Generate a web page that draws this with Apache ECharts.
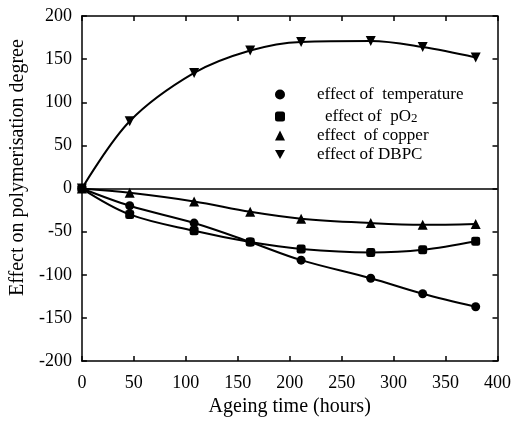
<!DOCTYPE html>
<html>
<head>
<meta charset="utf-8">
<script src="https://cdn.jsdelivr.net/npm/echarts@6/dist/echarts.min.js"></script>
<style>
  html, body { margin: 0; padding: 0; background: #fff; }
  #chart { width: 514px; height: 422px; }
</style>
</head>
<body>
<div id="chart"></div>
<script>
// Ageing time (hours) at which each effect was evaluated
var ageingHours = [0, 46, 108, 162, 211, 278, 328, 379];

// Effect on polymerisation degree for each factor
var effectTemperature = [0, -20, -40, -62, -83, -104, -122, -137];
var effectPO2 = [0, -30, -49, -62, -70, -74, -71, -61];
var effectCopper = [0, -5, -15, -27, -35, -40, -42, -41];
var effectDBPC = [0, 78, 134, 160, 170, 171, 164, 152];

var legendText = {
  temperature: 'effect of  temperature',
  pO2: '{a|effect of  pO}{s|2}',
  copper: 'effect  of copper',
  DBPC: 'effect of DBPC'
};

var FONT = '"Liberation Serif", "DejaVu Serif", serif';
var DOWN_TRIANGLE = 'path://M0,0 L10,0 L5,9 Z';

function pairs(ys) {
  return ageingHours.map(function (x, i) { return [x, ys[i]]; });
}

function lineSeries(name, ys, symbol, size) {
  return {
    name: name,
    type: 'line',
    data: pairs(ys),
    smooth: 0.35,
    symbol: symbol,
    symbolSize: size,
    showSymbol: true,
    lineStyle: { color: '#000', width: 2 },
    itemStyle: { color: '#000' },
    z: 3
  };
}

var chart = echarts.init(document.getElementById('chart'), null, { renderer: 'canvas' });

var tickCommon = { show: true, inside: true, length: 5, lineStyle: { color: '#000', width: 1.5 } };
var lineCommon = { show: true, onZero: false, lineStyle: { color: '#000', width: 1.5 } };

var series = [
  lineSeries('temperature', effectTemperature, 'circle', 9),
  lineSeries('pO2', effectPO2, 'roundRect', 9),
  lineSeries('copper', effectCopper, 'triangle', 10),
  lineSeries('DBPC', effectDBPC, DOWN_TRIANGLE, 10)
];

// horizontal reference line at zero effect
series[0].markLine = {
  silent: true,
  symbol: ['none', 'none'],
  label: { show: false },
  lineStyle: { color: '#000', type: 'solid', width: 1.5 },
  data: [{ yAxis: 0 }]
};

chart.setOption({
  animation: false,
  backgroundColor: '#fff',
  grid: { left: 80, right: 15, top: 16, bottom: 56, show: false },
  legend: {
    orient: 'vertical',
    left: 275,
    top: 86,
    padding: 0,
    itemWidth: 10,
    itemHeight: 10,
    itemGap: 2,
    selectedMode: false,
    data: [
      { name: 'temperature', icon: 'circle' },
      { name: 'pO2', icon: 'roundRect' },
      { name: 'copper', icon: 'triangle' },
      { name: 'DBPC', icon: DOWN_TRIANGLE }
    ],
    formatter: function (n) { return legendText[n]; },
    textStyle: {
      fontFamily: FONT,
      fontSize: 17,
      color: '#000',
      lineHeight: 17,
      padding: [0, 0, 0, 27],
      rich: {
        a: { fontFamily: FONT, fontSize: 17, color: '#000', lineHeight: 17, padding: [0, 0, 0, 8] },
        s: { fontFamily: FONT, fontSize: 13, color: '#000', lineHeight: 17, verticalAlign: 'bottom', padding: [7, 0, 0, 0] }
      }
    }
  },
  xAxis: [
    {
      type: 'value', position: 'bottom', min: 0, max: 400, interval: 50,
      name: 'Ageing time (hours)', nameLocation: 'middle', nameGap: 29,
      nameTextStyle: { fontFamily: FONT, fontSize: 20, color: '#000' },
      axisLine: lineCommon, axisTick: tickCommon,
      axisLabel: { fontFamily: FONT, fontSize: 18, color: '#000', margin: 13 },
      splitLine: { show: false }
    },
    {
      type: 'value', position: 'top', min: 0, max: 400, interval: 50,
      axisLine: lineCommon, axisTick: tickCommon,
      axisLabel: { show: false }, splitLine: { show: false }
    }
  ],
  yAxis: [
    {
      type: 'value', position: 'left', min: -200, max: 200, interval: 50,
      name: 'Effect on polymerisation degree', nameLocation: 'middle', nameGap: 52,
      nameTextStyle: { fontFamily: FONT, fontSize: 20, color: '#000', padding: [0, 0, 0, 42] },
      axisLine: lineCommon, axisTick: tickCommon,
      axisLabel: { fontFamily: FONT, fontSize: 18, color: '#000', margin: 10 },
      splitLine: { show: false }
    },
    {
      type: 'value', position: 'right', min: -200, max: 200, interval: 50,
      axisLine: lineCommon, axisTick: tickCommon,
      axisLabel: { show: false }, splitLine: { show: false }
    }
  ],
  series: series
});
</script>
</body>
</html>
